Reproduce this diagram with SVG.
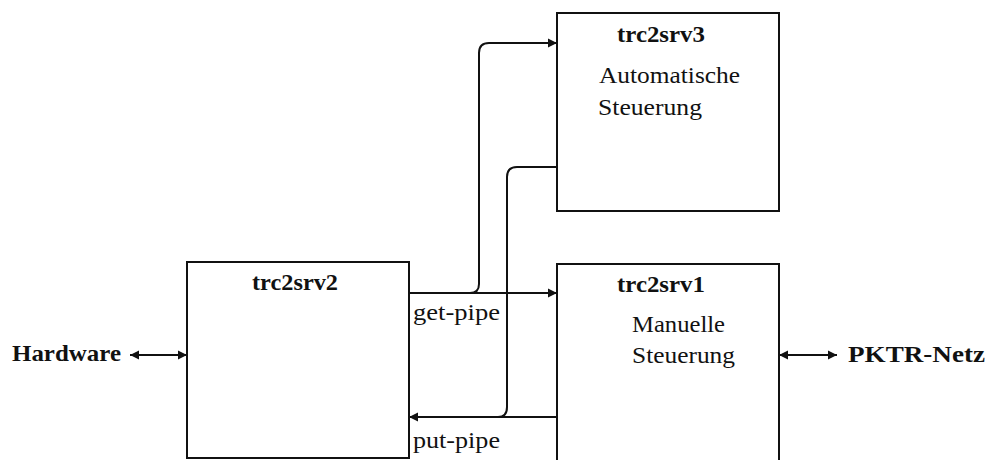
<svg xmlns="http://www.w3.org/2000/svg" width="988" height="460" viewBox="0 0 988 460">
<style>
  .box { fill: #fff; stroke: #111; stroke-width: 2; }
  .ln { fill: none; stroke: #111; stroke-width: 2; }
  .t { font-family: "Liberation Serif", "Times New Roman", serif; font-size: 23px; fill: #111; }
  .b { font-weight: bold; }
</style>
<defs>
  <marker id="ah" markerUnits="userSpaceOnUse" markerWidth="10" markerHeight="10" refX="9" refY="5" orient="auto-start-reverse" viewBox="0 0 10 10">
    <path d="M0,0.5 L9,5 L0,9.5 z" fill="#111"/>
  </marker>
</defs>
<rect width="988" height="460" fill="#fff"/>

<g id="node-trc2srv2">
  <rect class="box" x="187" y="262" width="222" height="196"/>
  <text class="t b" x="252" y="290" textLength="86" lengthAdjust="spacingAndGlyphs">trc2srv2</text>
</g>

<g id="node-trc2srv3">
  <rect class="box" x="557" y="13" width="222" height="198"/>
  <text class="t b" x="617" y="42" textLength="88" lengthAdjust="spacingAndGlyphs">trc2srv3</text>
  <text class="t" x="599" y="83" textLength="141" lengthAdjust="spacingAndGlyphs">Automatische</text>
  <text class="t" x="598" y="115" textLength="104" lengthAdjust="spacingAndGlyphs">Steuerung</text>
</g>

<g id="node-trc2srv1">
  <rect class="box" x="557" y="264" width="222" height="210"/>
  <text class="t b" x="617" y="292" textLength="88" lengthAdjust="spacingAndGlyphs">trc2srv1</text>
  <text class="t" x="632" y="332" textLength="93" lengthAdjust="spacingAndGlyphs">Manuelle</text>
  <text class="t" x="632" y="363" textLength="103" lengthAdjust="spacingAndGlyphs">Steuerung</text>
</g>

<g id="node-hardware">
  <text class="t b" x="12" y="361" textLength="109" lengthAdjust="spacingAndGlyphs">Hardware</text>
</g>

<g id="node-pktr">
  <text class="t b" x="848" y="362" textLength="137" lengthAdjust="spacingAndGlyphs">PKTR-Netz</text>
</g>

<g id="connectors">
  <path class="ln" d="M409,293 H557" marker-end="url(#ah)"/>
  <path class="ln" d="M470,293 Q479,293 479,284 V53 Q479,43 489,43 H557" marker-end="url(#ah)"/>
  <path class="ln" d="M557,417 H409" marker-end="url(#ah)"/>
  <path class="ln" d="M557,167 H517 Q507,167 507,177 V407 Q507,417 498,417"/>
  <path class="ln" d="M130,355 H187" marker-start="url(#ah)" marker-end="url(#ah)"/>
  <path class="ln" d="M779,355 H837" marker-start="url(#ah)" marker-end="url(#ah)"/>
  <text class="t" x="413" y="320" textLength="87" lengthAdjust="spacingAndGlyphs">get-pipe</text>
  <text class="t" x="413" y="448" textLength="87" lengthAdjust="spacingAndGlyphs">put-pipe</text>
</g>
</svg>
